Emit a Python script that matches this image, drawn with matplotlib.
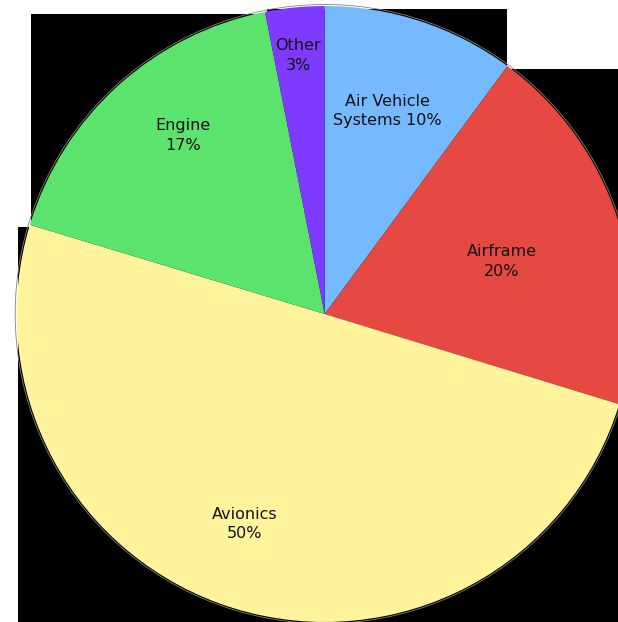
import matplotlib
matplotlib.use("Agg")
import numpy as np
import matplotlib.pyplot as plt
from matplotlib.patches import Rectangle, Circle

# cost breakdown (%), clockwise from the top
categories = ['Air Vehicle\nSystems', 'Airframe', 'Avionics', 'Engine', 'Other']
shares = [10.1, 19.6, 49.9, 17.2, 3.1]
colors = ['#75BAFF', '#E64842', '#FFF49B', '#5CE36E', '#7E3BFF']

# label placement: fraction of radius and angle nudge (deg)
label_r = [0.69, 0.60, 0.73, 0.74, 0.845]
label_da = [1.0, -1.8, -4.0, -3.7, 0.3]

W, H = 618, 622
cx, cy, R = 324.7, H - 314, 308

fig = plt.figure(figsize=(W / 100, H / 100), dpi=100)
ax = fig.add_axes([0, 0, 1, 1])

wedges, _ = ax.pie(shares, colors=colors, startangle=90, counterclock=False,
                   center=(cx, cy), radius=R, frame=True,
                   wedgeprops=dict(linewidth=0, zorder=2))
ax.set_xlim(0, W)
ax.set_ylim(0, H)
ax.set_aspect('equal')
ax.axis('off')

# black box behind every wedge (as in the original render)
for w in wedges:
    ext = w.get_path().get_extents()
    ax.add_patch(Rectangle((ext.x0 + 1.5, ext.y0), ext.width - 1.5, ext.height - 2.5,
                           facecolor='black', edgecolor='none', zorder=1))

ax.add_patch(Circle((cx, cy), R + 1.5, fill=False, edgecolor='#808080',
                    linewidth=0.6, zorder=3))

for w, cat, s, f, da in zip(wedges, categories, shares, label_r, label_da):
    mid = np.deg2rad((w.theta1 + w.theta2) / 2 + da)
    x = cx + f * R * np.cos(mid)
    y = cy + f * R * np.sin(mid)
    if '\n' in cat:
        txt = f'{cat} {s:.0f}%'
    else:
        txt = f'{cat}\n{s:.0f}%'
    ax.text(x, y, txt, ha='center', va='center', fontsize=11.5,
            family='DejaVu Sans', color='#111111', linespacing=1.4, zorder=4)

fig.savefig('out.png', dpi=100, facecolor='white')
